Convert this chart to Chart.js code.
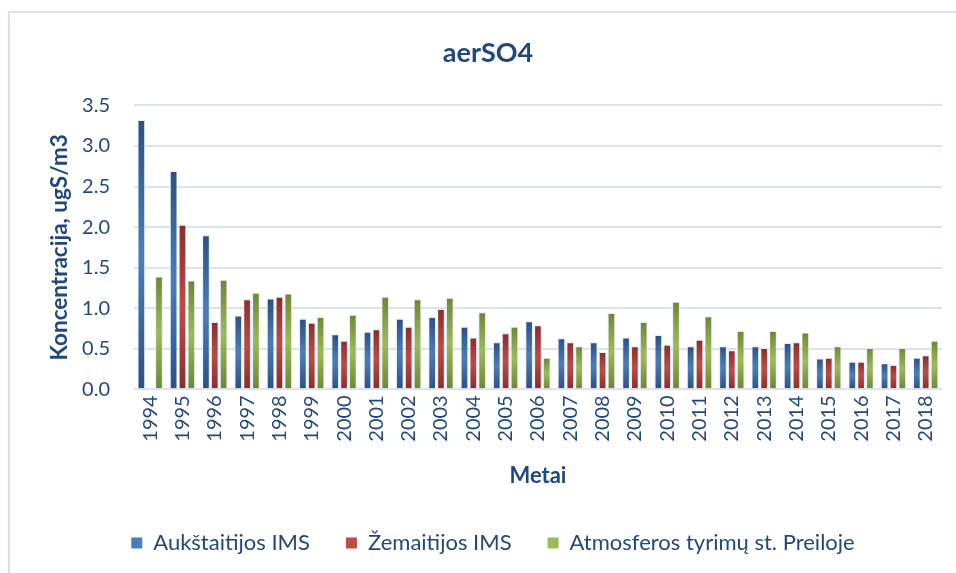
<!DOCTYPE html>
<html>
<head>
<meta charset="utf-8">
<script src="https://cdn.jsdelivr.net/npm/chart.js@4.4.0/dist/chart.umd.min.js"></script>
<style>
  html, body { margin: 0; padding: 0; background: #fff; }
  #wrap { width: 956px; height: 573px; position: relative; }
</style>
</head>
<body>
<div id="wrap"><canvas id="chart" width="956" height="573"></canvas></div>
<script>
const years = ['1994', '1995', '1996', '1997', '1998', '1999', '2000', '2001', '2002', '2003', '2004', '2005', '2006',
  '2007', '2008', '2009', '2010', '2011', '2012', '2013', '2014', '2015', '2016', '2017', '2018'];

const aukstaitija = [3.32, 2.69, 1.90, 0.91, 1.12, 0.87, 0.68, 0.71, 0.87, 0.89, 0.77, 0.58, 0.84,
  0.63, 0.58, 0.64, 0.67, 0.53, 0.53, 0.53, 0.57, 0.38, 0.34, 0.32, 0.39];
const zemaitija = [null, 2.03, 0.83, 1.11, 1.14, 0.82, 0.60, 0.74, 0.77, 0.99, 0.64, 0.69, 0.79,
  0.58, 0.46, 0.53, 0.55, 0.61, 0.48, 0.51, 0.58, 0.39, 0.34, 0.30, 0.42];
const preila = [1.39, 1.34, 1.35, 1.19, 1.18, 0.89, 0.92, 1.14, 1.11, 1.13, 0.95, 0.77, 0.39,
  0.53, 0.94, 0.83, 1.08, 0.90, 0.72, 0.72, 0.70, 0.53, 0.51, 0.51, 0.60];

const textColor = '#1F497D';
const gridColor = '#D9E3F1';
const fontFamily = 'Lato, "Open Sans", sans-serif';

// dark edge / light middle, like the old office gradient bars
const barGradient = (dark, light) => (context) => {
  const chart = context.chart;
  const yScale = chart.scales.y;
  if (!yScale || context.raw == null || context.type !== 'data') return light;
  const top = yScale.getPixelForValue(context.raw);
  const base = yScale.getPixelForValue(0);
  if (!isFinite(top) || !isFinite(base) || base - top < 1) return light;
  const g = chart.ctx.createLinearGradient(0, top, 0, base);
  g.addColorStop(0, dark);
  g.addColorStop(0.5, light);
  g.addColorStop(1, dark);
  return g;
};

const outerBorder = {
  id: 'outerBorder',
  beforeDraw(chart) {
    const ctx = chart.ctx;
    ctx.save();
    ctx.strokeStyle = '#D6E2F2';
    ctx.lineWidth = 2;
    ctx.strokeRect(9, 12, 2000, 2000);
    ctx.restore();
  }
};

// legend uses a wide padding for item spacing, so cap the height it asks for;
// title and legend sit a bit right of the centre in the original
const boxTweaks = {
  id: 'boxTweaks',
  beforeLayout(chart) {
    const lg = chart.legend;
    if (lg && !lg._capped) {
      const fit = lg.fit.bind(lg);
      lg.fit = function () {
        fit();
        this.height = 77;
      };
      lg._capped = true;
    }
  },
  afterLayout(chart) {
    const t = chart.titleBlock;
    if (t) {
      t.left += 17;
      t.right += 17;
    }
    const lg = chart.legend;
    if (lg) {
      lg.left += 22;
      lg.right += 22;
    }
  }
};

const makeDataset = (label, data, dark, light) => ({
  label: label,
  data: data,
  backgroundColor: barGradient(dark, light),
  borderColor: 'rgba(225, 233, 243, 0.9)',
  borderWidth: 1,
  categoryPercentage: 0.82,
  barPercentage: 0.87,
  legendColor: light
});

new Chart(document.getElementById('chart'), {
  type: 'bar',
  data: {
    labels: years,
    datasets: [
      makeDataset('Aukštaitijos IMS', aukstaitija, '#2C5084', '#4A7EBB'),
      makeDataset('Žemaitijos IMS', zemaitija, '#8A2D2B', '#BE4B48'),
      makeDataset('Atmosferos tyrimų st. Preiloje', preila, '#6C8735', '#9BBB59')
    ]
  },
  plugins: [outerBorder, boxTweaks],
  options: {
    responsive: false,
    animation: false,
    layout: { padding: { left: 0, right: 14, top: 0, bottom: 0 } },
    plugins: {
      title: {
        display: true,
        text: 'aerSO4',
        color: textColor,
        font: { family: fontFamily, size: 27, weight: 'bold', lineHeight: 1.2 },
        padding: { top: 37, bottom: 36 }
      },
      legend: {
        position: 'bottom',
        labels: {
          color: textColor,
          font: { family: fontFamily, size: 22 },
          boxWidth: 11,
          boxHeight: 11,
          padding: 36,
          generateLabels: (chart) => chart.data.datasets.map((ds, i) => ({
            text: ds.label,
            fillStyle: ds.legendColor,
            strokeStyle: ds.legendColor,
            lineWidth: 0,
            fontColor: textColor,
            datasetIndex: i
          }))
        }
      },
      tooltip: { enabled: false }
    },
    scales: {
      x: {
        grid: { display: false, drawTicks: false },
        border: { display: true, color: gridColor, width: 2 },
        ticks: {
          color: textColor,
          font: { family: fontFamily, size: 20 },
          minRotation: 90,
          maxRotation: 90,
          padding: 6,
          autoSkip: false
        },
        title: {
          display: true,
          text: 'Metai',
          color: textColor,
          font: { family: fontFamily, size: 22, weight: 'bold', lineHeight: 1.2 },
          padding: { top: 0, bottom: 7 }
        },
        afterFit: (scale) => { scale.height = 106.7; }
      },
      y: {
        min: 0,
        max: 3.5,
        grid: { color: gridColor, lineWidth: 2, drawTicks: false },
        border: { display: false },
        ticks: {
          stepSize: 0.5,
          color: textColor,
          font: { family: fontFamily, size: 20 },
          padding: 24,
          callback: (value) => value.toFixed(1)
        },
        title: {
          display: true,
          text: 'Koncentracija, ugS/m3',
          color: textColor,
          font: { family: fontFamily, size: 22.5, weight: 'bold', lineHeight: 1.2 },
          padding: { top: 46, bottom: 0 }
        },
        afterFit: (scale) => { scale.width = 134; }
      }
    }
  }
});
</script>
</body>
</html>
